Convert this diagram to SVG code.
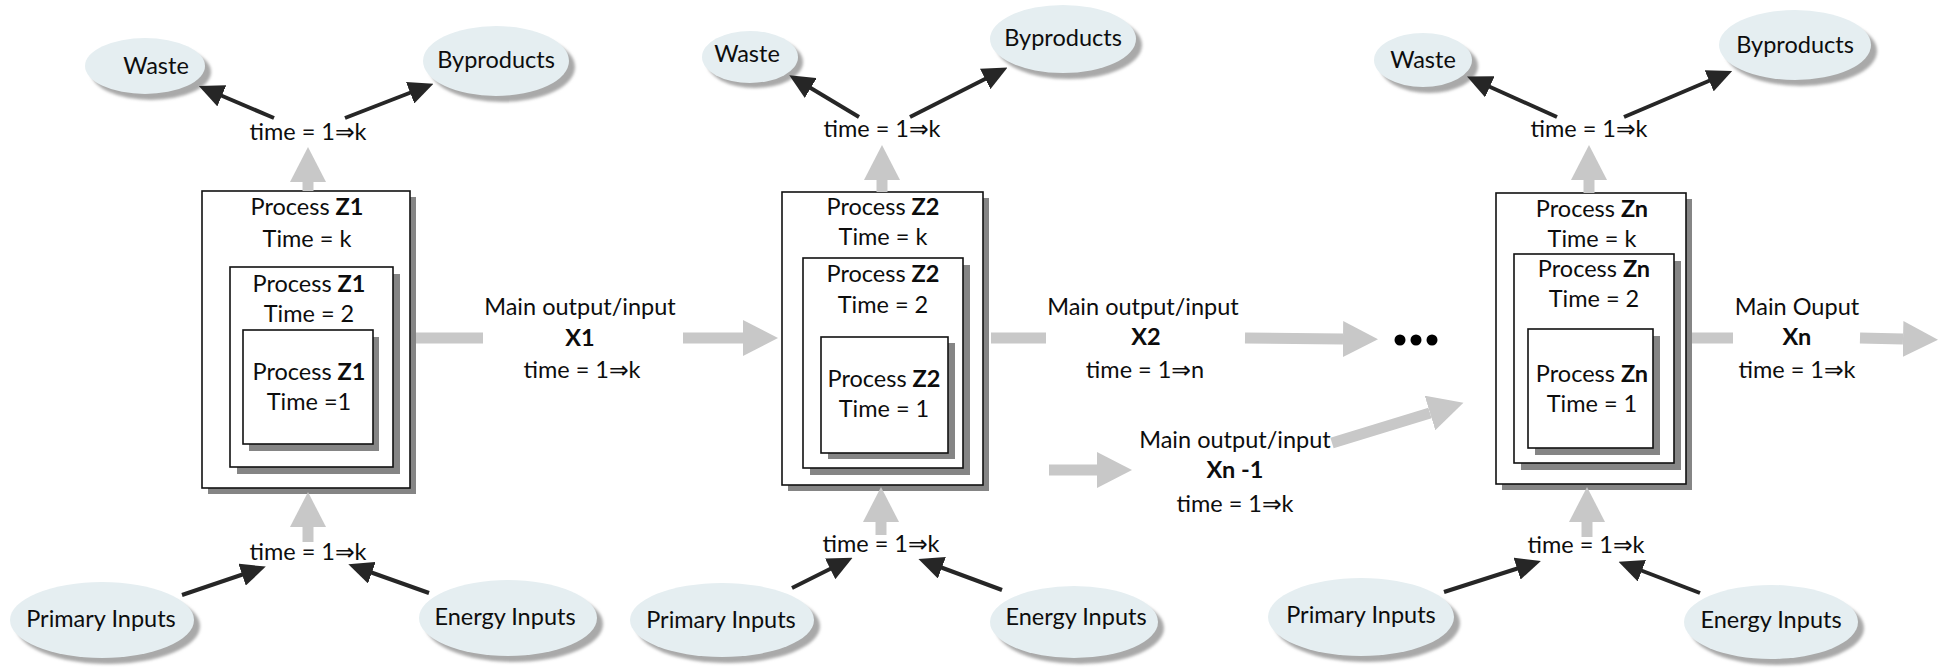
<svg xmlns="http://www.w3.org/2000/svg" width="1944" height="668" viewBox="0 0 1944 668">
  <style>
    text { font-family: Lato, "Noto Sans", "DejaVu Sans", sans-serif; font-size: 23.5px; fill: #0d0d0d; text-anchor: middle; }
    .b { font-weight: bold; }
    .ell { fill: #e5eef1; }
    .esh { fill: #a9a9a9; filter: url(#soft); }
    .box { fill: #fff; stroke: #111; stroke-width: 1.6; }
    .bsh { fill: #858585; }
    .flow { stroke: #c8c8c8; stroke-width: 11; fill: none; marker-end: url(#gh); }
    .bar { stroke: #c8c8c8; stroke-width: 11; fill: none; }
    .link { stroke: #262626; stroke-width: 4; fill: none; marker-end: url(#bh); }
  </style>
  <defs>
    <filter id="soft" x="-10%" y="-10%" width="120%" height="120%">
      <feGaussianBlur stdDeviation="1.6"/>
    </filter>
    <marker id="gh" markerUnits="userSpaceOnUse" markerWidth="36" markerHeight="36" refX="0" refY="18" orient="auto" viewBox="0 0 36 36">
      <path d="M0,0 L35,18 L0,36 z" fill="#c8c8c8"/>
    </marker>
    <marker id="bh" markerUnits="userSpaceOnUse" markerWidth="25" markerHeight="23" refX="2" refY="11.5" orient="auto" viewBox="0 0 25 23">
      <path d="M0,0 L25,11.5 L0,23 z" fill="#262626"/>
    </marker>
  </defs>

  <!-- ===== Stage 1 ===== -->
  <g id="waste1">
    <ellipse class="esh" cx="151" cy="72" rx="60" ry="28"/>
    <ellipse class="ell" cx="145" cy="66" rx="60" ry="28"/>
    <text x="156" y="74">Waste</text>
  </g>
  <g id="byproducts1">
    <ellipse class="esh" cx="502" cy="67" rx="73" ry="35"/>
    <ellipse class="ell" cx="496" cy="61" rx="73" ry="35"/>
    <text x="496" y="68">Byproducts</text>
  </g>
  <g id="process-z1">
    <rect class="bsh" x="208" y="197" width="208" height="297"/>
    <rect class="box" x="202" y="191" width="208" height="297"/>
    <text x="307" y="215">Process <tspan class="b">Z1</tspan></text>
    <text x="307" y="247">Time = k</text>
    <rect class="bsh" x="237" y="274" width="163" height="200"/>
    <rect class="box" x="230" y="267" width="163" height="200"/>
    <text x="309" y="292">Process <tspan class="b">Z1</tspan></text>
    <text x="309" y="322">Time = 2</text>
    <rect class="bsh" x="249" y="337" width="130" height="114"/>
    <rect class="box" x="243" y="330" width="130" height="114"/>
    <text x="309" y="380">Process <tspan class="b">Z1</tspan></text>
    <text x="309" y="410">Time =1</text>
  </g>
  <g id="primary1">
    <ellipse class="esh" cx="108" cy="626" rx="92" ry="38"/>
    <ellipse class="ell" cx="102" cy="620" rx="92" ry="38"/>
    <text x="101" y="627">Primary Inputs</text>
  </g>
  <g id="energy1">
    <ellipse class="esh" cx="514" cy="624" rx="89" ry="38"/>
    <ellipse class="ell" cx="508" cy="618" rx="89" ry="38"/>
    <text x="505" y="625">Energy Inputs</text>
  </g>
  <g id="labels1">
    <text x="308" y="140">time = 1⇒k</text>
    <text x="308" y="560">time = 1⇒k</text>
    <text x="580" y="315">Main output/input</text>
    <text x="580" y="346" class="b">X1</text>
    <text x="582" y="378">time = 1⇒k</text>
  </g>

  <!-- ===== Stage 2 ===== -->
  <g id="waste2">
    <ellipse class="esh" cx="755" cy="62" rx="48" ry="26"/>
    <ellipse class="ell" cx="750" cy="57" rx="48" ry="26"/>
    <text x="747" y="62">Waste</text>
  </g>
  <g id="byproducts2">
    <ellipse class="esh" cx="1069" cy="45" rx="73" ry="34"/>
    <ellipse class="ell" cx="1063" cy="39" rx="73" ry="34"/>
    <text x="1063" y="46">Byproducts</text>
  </g>
  <g id="process-z2">
    <rect class="bsh" x="788" y="198" width="201" height="293"/>
    <rect class="box" x="782" y="192" width="201" height="293"/>
    <text x="883" y="215">Process <tspan class="b">Z2</tspan></text>
    <text x="883" y="245">Time = k</text>
    <rect class="bsh" x="810" y="265" width="160" height="210"/>
    <rect class="box" x="803" y="258" width="160" height="210"/>
    <text x="883" y="282">Process <tspan class="b">Z2</tspan></text>
    <text x="883" y="313">Time = 2</text>
    <rect class="bsh" x="828" y="343" width="127" height="116"/>
    <rect class="box" x="821" y="337" width="127" height="116"/>
    <text x="884" y="387">Process <tspan class="b">Z2</tspan></text>
    <text x="884" y="417">Time = 1</text>
  </g>
  <g id="primary2">
    <ellipse class="esh" cx="728" cy="626" rx="92" ry="37"/>
    <ellipse class="ell" cx="722" cy="620" rx="92" ry="37"/>
    <text x="721" y="628">Primary Inputs</text>
  </g>
  <g id="energy2">
    <ellipse class="esh" cx="1080" cy="628" rx="84" ry="36"/>
    <ellipse class="ell" cx="1074" cy="622" rx="84" ry="36"/>
    <text x="1076" y="625">Energy Inputs</text>
  </g>
  <g id="labels2">
    <text x="882" y="137">time = 1⇒k</text>
    <text x="881" y="552">time = 1⇒k</text>
    <text x="1143" y="315">Main output/input</text>
    <text x="1146" y="345" class="b">X2</text>
    <text x="1145" y="378">time = 1⇒n</text>
    <text x="1235" y="448">Main output/input</text>
    <text x="1235" y="478" class="b">Xn -1</text>
    <text x="1235" y="512">time = 1⇒k</text>
  </g>
  <g id="ellipsis">
    <circle cx="1400" cy="340" r="5.5" fill="#000"/>
    <circle cx="1416" cy="340" r="5.5" fill="#000"/>
    <circle cx="1432" cy="340" r="5.5" fill="#000"/>
  </g>

  <!-- ===== Stage n ===== -->
  <g id="waste3">
    <ellipse class="esh" cx="1429" cy="66" rx="49" ry="27"/>
    <ellipse class="ell" cx="1423" cy="60" rx="49" ry="27"/>
    <text x="1423" y="68">Waste</text>
  </g>
  <g id="byproducts3">
    <ellipse class="esh" cx="1801" cy="51" rx="76" ry="35"/>
    <ellipse class="ell" cx="1795" cy="45" rx="76" ry="35"/>
    <text x="1795" y="53">Byproducts</text>
  </g>
  <g id="process-zn">
    <rect class="bsh" x="1502" y="199" width="190" height="291"/>
    <rect class="box" x="1496" y="193" width="190" height="291"/>
    <text x="1592" y="217">Process <tspan class="b">Zn</tspan></text>
    <text x="1592" y="247">Time = k</text>
    <rect class="bsh" x="1521" y="261" width="160" height="209"/>
    <rect class="box" x="1514" y="254" width="160" height="209"/>
    <text x="1594" y="277">Process <tspan class="b">Zn</tspan></text>
    <text x="1594" y="307">Time = 2</text>
    <rect class="bsh" x="1535" y="336" width="125" height="119"/>
    <rect class="box" x="1528" y="329" width="125" height="119"/>
    <text x="1592" y="382">Process <tspan class="b">Zn</tspan></text>
    <text x="1592" y="412">Time = 1</text>
  </g>
  <g id="primary3">
    <ellipse class="esh" cx="1367" cy="623" rx="93" ry="39"/>
    <ellipse class="ell" cx="1361" cy="617" rx="93" ry="39"/>
    <text x="1361" y="623">Primary Inputs</text>
  </g>
  <g id="energy3">
    <ellipse class="esh" cx="1777" cy="628" rx="87" ry="37"/>
    <ellipse class="ell" cx="1771" cy="622" rx="87" ry="37"/>
    <text x="1771" y="628">Energy Inputs</text>
  </g>
  <g id="labels3">
    <text x="1589" y="137">time = 1⇒k</text>
    <text x="1586" y="553">time = 1⇒k</text>
    <text x="1797" y="315">Main Ouput</text>
    <text x="1797" y="345" class="b">Xn</text>
    <text x="1797" y="378">time = 1⇒k</text>
  </g>

  <!-- ===== Connectors ===== -->
  <g id="connectors">
    <!-- stage 1 -->
    <line class="flow" x1="308" y1="191" x2="308" y2="182"/>
    <line class="flow" x1="308" y1="542" x2="308" y2="527"/>
    <line class="bar" x1="416" y1="338" x2="483" y2="338"/>
    <line class="flow" x1="683" y1="338" x2="743" y2="338"/>
    <line class="link" x1="274" y1="118" x2="220" y2="95"/>
    <line class="link" x1="345" y1="118" x2="412" y2="92"/>
    <line class="link" x1="182" y1="595" x2="244" y2="574"/>
    <line class="link" x1="429" y1="593" x2="370" y2="572"/>
    <!-- stage 2 -->
    <line class="flow" x1="882" y1="192" x2="882" y2="180"/>
    <line class="flow" x1="881" y1="535" x2="881" y2="522"/>
    <line class="bar" x1="991" y1="338" x2="1046" y2="338"/>
    <line class="flow" x1="1245" y1="338" x2="1343" y2="339"/>
    <line class="flow" x1="1049" y1="470" x2="1097" y2="470"/>
    <line class="flow" x1="1332" y1="443" x2="1430" y2="413"/>
    <line class="link" x1="859" y1="117" x2="809" y2="87"/>
    <line class="link" x1="910" y1="117" x2="987" y2="78"/>
    <line class="link" x1="792" y1="588" x2="832" y2="568"/>
    <line class="link" x1="1002" y1="590" x2="940" y2="567"/>
    <!-- stage n -->
    <line class="flow" x1="1589" y1="193" x2="1589" y2="180"/>
    <line class="flow" x1="1587" y1="537" x2="1587" y2="522"/>
    <line class="bar" x1="1692" y1="338" x2="1733" y2="338"/>
    <line class="flow" x1="1860" y1="338" x2="1903" y2="339"/>
    <line class="link" x1="1557" y1="117" x2="1488" y2="86"/>
    <line class="link" x1="1624" y1="117" x2="1711" y2="80"/>
    <line class="link" x1="1444" y1="592" x2="1519" y2="568"/>
    <line class="link" x1="1700" y1="593" x2="1640" y2="570"/>
  </g>
</svg>
